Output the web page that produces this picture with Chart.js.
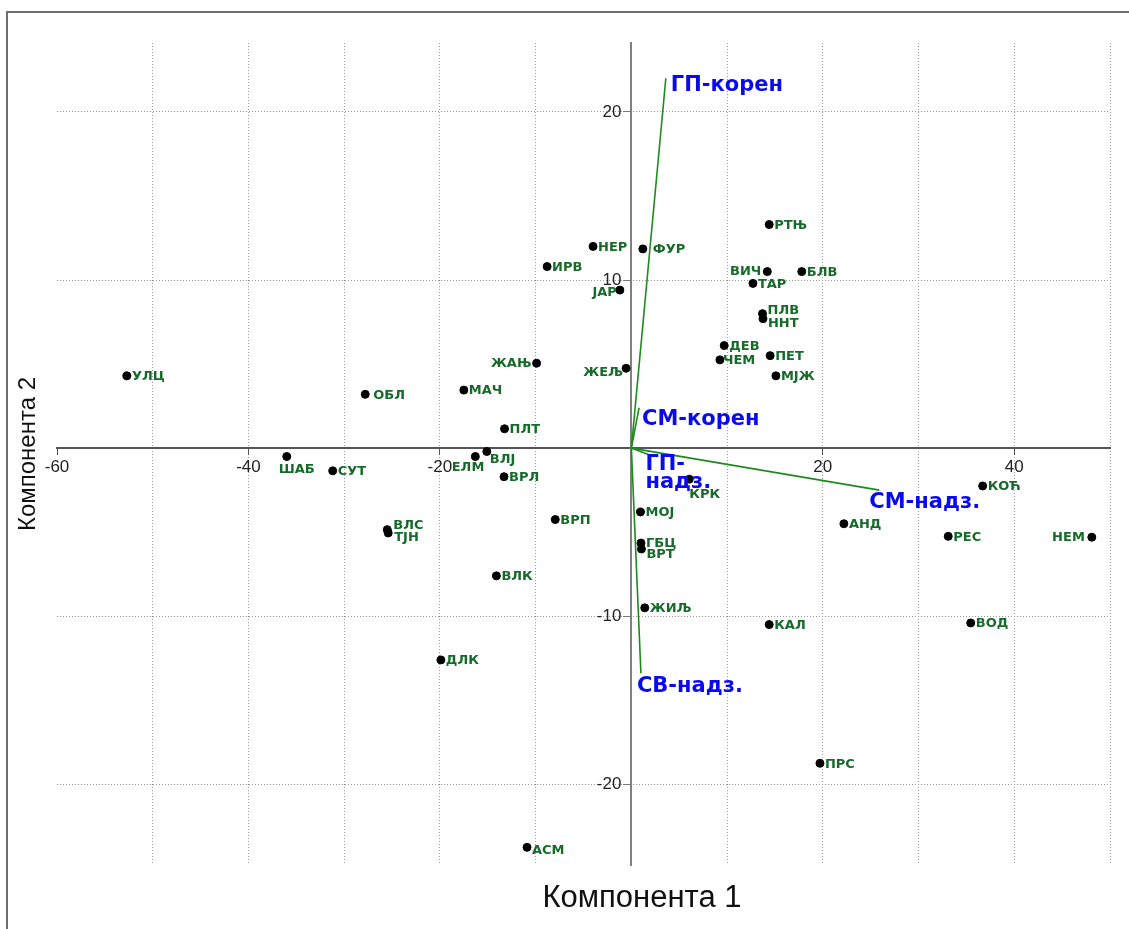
<!DOCTYPE html>
<html lang="sr">
<head>
    <meta charset="UTF-8">
    <title>Компонента 1 / Компонента 2</title>
    <script src="https://cdn.jsdelivr.net/npm/chart.js"></script>
    <style>
        html, body { margin: 0; padding: 0; background: #fff; }
    </style>
</head>
<body>
    <canvas id="biplot" width="1129" height="929"></canvas>
    <script>
        // site codes and their scores on the two components
        const pointNames = ['УЛЦ','ОБЛ','ШАБ','СУТ','ВЛС','ТЈН','ДЛК','МАЧ','ЖАЊ','ИРВ','НЕР','ЈАР','ЖЕЉ','ФУР','ПЛТ','ВЛЈ','ЕЛМ','ВРЛ','ВРП','ВЛК','АСМ','МОЈ','ГБЦ','ВРТ','ЖИЉ','КРК','ДЕВ','ЧЕМ','ПЛВ','ННТ','ПЕТ','МЈЖ','ТАР','ВИЧ','РТЊ','БЛВ','КАЛ','ПРС','АНД','РЕС','КОЋ','ВОД','НЕМ'];
        const comp1 = [-52.7, -27.8, -36.0, -31.2, -25.5, -25.4, -19.9, -17.5, -9.9, -8.8, -4.0, -1.2, -0.55, 1.2, -13.25, -15.1, -16.3, -13.3, -7.95, -14.1, -10.9, 0.95, 1.0, 1.05, 1.4, 6.05, 9.7, 9.25, 13.7, 13.75, 14.5, 15.1, 12.7, 14.2, 14.4, 17.8, 14.4, 19.7, 22.2, 33.1, 36.7, 35.45, 48.1];
        const comp2 = [4.3, 3.2, -0.5, -1.35, -4.85, -5.05, -12.6, 3.45, 5.05, 10.8, 12.0, 9.4, 4.75, 11.85, 1.15, -0.2, -0.5, -1.7, -4.25, -7.6, -23.75, -3.8, -5.65, -6.0, -9.5, -1.85, 6.1, 5.25, 8.0, 7.7, 5.5, 4.3, 9.8, 10.5, 13.3, 10.5, -10.5, -18.75, -4.5, -5.25, -2.25, -10.4, -5.3];

        // variable loadings (arrow tips)
        const vectorNames = ['ГП-корен', 'СМ-корен', 'ГП-надз.', 'СМ-надз.', 'СВ-надз.'];
        const vectorX = [3.6, 0.8, 2.3, 25.9, 1.0];
        const vectorY = [22.0, 2.4, -0.5, -2.5, -13.4];

        const xTickLabels = [-60, -40, -20, 20, 40];
        const yTickLabels = [-20, -10, 10, 20];

        // label placement: [textAlign, dx, dy] relative to the point
        const labelPlace = {
            'ШАБ': ['center', 10, 13], 'ЕЛМ': ['right', 9, 11], 'ЖАЊ': ['right', -5, 0],
            'ЖЕЉ': ['right', -3, 4], 'ЈАР': ['right', -3, 3], 'ВИЧ': ['right', -6, 0],
            'НЕМ': ['right', -7, 0], 'КРК': ['left', 0, 15], 'ФУР': ['left', 10, 1],
            'ОБЛ': ['left', 8, 1], 'ВЛЈ': ['left', 3, 8], 'ВЛС': ['left', 6, -4],
            'ТЈН': ['left', 6, 5], 'ПЛВ': ['left', 5, -3], 'ННТ': ['left', 5, 5],
            'ВРТ': ['left', 5, 6], 'АСМ': ['left', 5, 3], 'ЧЕМ': ['left', 3, 1]
        };
        const vectorPlace = {
            'ГП-корен': [5, 7], 'СМ-корен': [3, 12], 'ГП-надз.': [-8, 8],
            'СМ-надз.': [-10, 12], 'СВ-надз.': [-4, 13]
        };
        const vectorWrap = { 'ГП-надз.': ['ГП-', 'надз.'] };

        const pointFont = 'bold 13px "DejaVu Sans"';
        const vectorFont = 'bold 21px "DejaVu Sans"';

        const datasets = vectorNames.map((name, i) => ({
            label: name,
            data: [{x: 0, y: 0}, {x: vectorX[i], y: vectorY[i]}],
            showLine: true,
            borderColor: '#1f8a1f',
            borderWidth: 1.6,
            pointRadius: 0
        }));
        datasets.push({
            label: 'points',
            data: comp1.map((x, i) => ({x: x, y: comp2[i]})),
            backgroundColor: '#000',
            borderColor: '#000',
            pointRadius: 4,
            pointHoverRadius: 4
        });

        const framePlugin = {
            id: 'framePlugin',
            beforeDraw: (chart) => {
                const ctx = chart.ctx;
                ctx.save();
                ctx.strokeStyle = '#6e6e6e';
                ctx.lineWidth = 2;
                ctx.beginPath();
                ctx.moveTo(7, 929);
                ctx.lineTo(7, 12);
                ctx.lineTo(1129, 12);
                ctx.stroke();
                ctx.restore();
            },
            afterDraw: (chart) => {
                const ctx = chart.ctx;
                const xs = chart.scales.x, ys = chart.scales.y;
                ctx.save();
                // y tick labels, to the left of the centred axis
                ctx.fillStyle = '#222';
                ctx.font = '17px "Liberation Sans"';
                ctx.textAlign = 'right';
                ctx.textBaseline = 'middle';
                const axisX = xs.getPixelForValue(0);
                yTickLabels.forEach(v => ctx.fillText(String(v), axisX - 10, ys.getPixelForValue(v)));
                // axis titles
                ctx.fillStyle = '#111';
                ctx.textAlign = 'center';
                ctx.font = '31px "Liberation Sans"';
                ctx.fillText('Компонента 1', 642, 898);
                ctx.translate(28, (chart.chartArea.top + chart.chartArea.bottom) / 2);
                ctx.rotate(-Math.PI / 2);
                ctx.font = '24px "Liberation Sans"';
                ctx.fillText('Компонента 2', 0, 0);
                ctx.restore();
            }
        };

        const labelPlugin = {
            id: 'labelPlugin',
            afterDatasetsDraw: (chart) => {
                const ctx = chart.ctx;
                ctx.save();
                ctx.textBaseline = 'middle';
                // point labels
                const pts = chart.getDatasetMeta(vectorNames.length).data;
                ctx.font = pointFont;
                ctx.fillStyle = '#176b2a';
                pts.forEach((el, i) => {
                    const p = labelPlace[pointNames[i]] || ['left', 5, 1];
                    ctx.textAlign = p[0];
                    ctx.fillText(pointNames[i], el.x + p[1], el.y + p[2]);
                });
                // vector labels
                ctx.font = vectorFont;
                ctx.fillStyle = '#0a0aee';
                ctx.textAlign = 'left';
                vectorNames.forEach((name, i) => {
                    const tip = chart.getDatasetMeta(i).data[1];
                    const off = vectorPlace[name];
                    const lines = vectorWrap[name] || [name];
                    lines.forEach((ln, k) => {
                        ctx.fillText(ln, tip.x + off[0], tip.y + off[1] + k * 18);
                    });
                });
                ctx.restore();
            }
        };

        const tickFont = { family: 'Liberation Sans', size: 17 };

        new Chart(document.getElementById('biplot'), {
            type: 'scatter',
            data: { datasets: datasets },
            options: {
                responsive: false,
                animation: false,
                layout: { padding: { left: 57, right: 19, top: 43, bottom: 64 } },
                plugins: {
                    legend: { display: false },
                    tooltip: { enabled: false }
                },
                scales: {
                    x: {
                        type: 'linear',
                        position: { y: 0 },
                        min: -60,
                        max: 50,
                        ticks: {
                            stepSize: 10,
                            autoSkip: false,
                            maxRotation: 0,
                            includeBounds: false,
                            font: tickFont,
                            color: '#222',
                            padding: 3,
                            callback: (v) => xTickLabels.includes(v) ? String(v) : ''
                        },
                        grid: {
                            color: (c) => (c.tick && (c.tick.value === 0 || c.tick.value === -60)) ? 'rgba(0,0,0,0)' : '#9a9a9a',
                            tickColor: (c) => (c.tick && xTickLabels.includes(c.tick.value)) ? '#555' : 'rgba(0,0,0,0)',
                            tickLength: 6,
                            lineWidth: 1
                        },
                        border: { color: '#555', width: 2, dash: [1, 2] }
                    },
                    y: {
                        type: 'linear',
                        position: { x: 0 },
                        min: -24.8,
                        max: 24.1,
                        ticks: {
                            display: false,
                            stepSize: 10,
                            autoSkip: false,
                            includeBounds: false
                        },
                        grid: {
                            color: (c) => (c.tick && c.tick.value === 0) ? 'rgba(0,0,0,0)' : '#9a9a9a',
                            tickColor: (c) => (c.tick && yTickLabels.includes(c.tick.value)) ? '#777' : 'rgba(0,0,0,0)',
                            tickLength: 7,
                            lineWidth: 1
                        },
                        border: { color: '#808080', width: 2, dash: [1, 2] }
                    }
                }
            },
            plugins: [framePlugin, labelPlugin]
        });
    </script>
</body>
</html>
